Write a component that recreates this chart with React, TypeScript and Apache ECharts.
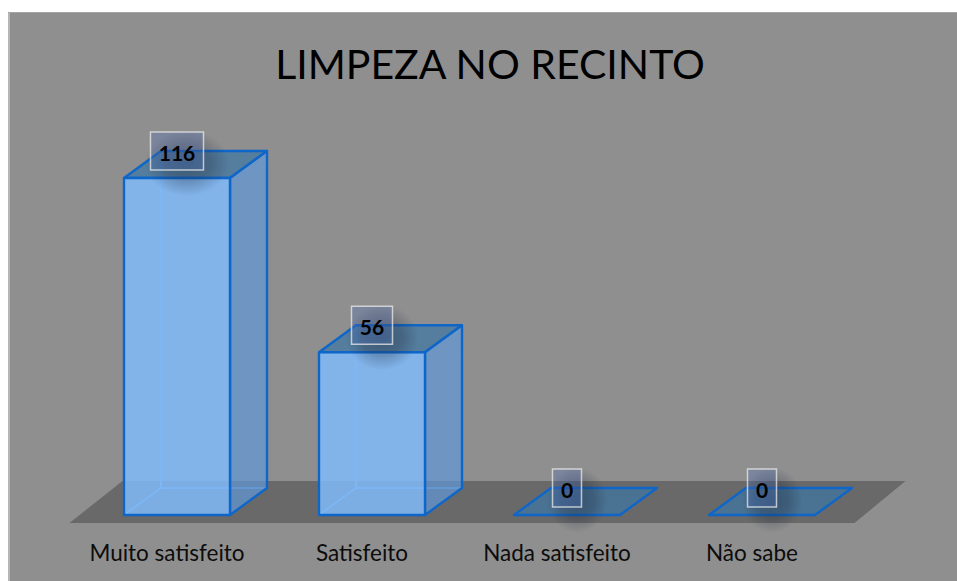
import React, { useEffect, useRef } from "react";
import * as echarts from "echarts";

const titleText = "LIMPEZA NO RECINTO";
const categories = ["Muito satisfeito", "Satisfeito", "Nada satisfeito", "Não sabe"];
const values = [116, 56, 0, 0];

const DX = 37;
const DY = -27;
const EDGE = "#0f66c9";
const GHOST = "#6aa9ee";
const FONT = "Lato, Carlito, 'Open Sans', sans-serif";

function renderFloor(_params: any, api: any) {
  const origin = api.coord([0, 0]);
  const band = api.size([1, 0])[0];
  const left = origin[0] - band / 2;
  const right = left + band * categories.length;
  const y = origin[1];
  return {
    type: "polygon",
    shape: {
      points: [
        [left - 10, y + 8],
        [right - 5, y + 8],
        [right + 46, y - 34],
        [left + 43, y - 34],
      ],
    },
    style: { fill: "#696969" },
    silent: true,
  };
}

function renderBar(_params: any, api: any) {
  const idx = api.value(0);
  const val = api.value(1);
  const base = api.coord([idx, 0]);
  const top = api.coord([idx, val]);
  const w = api.size([1, 0])[0] * 0.5436;
  const x0 = base[0] - w / 2;
  const x1 = base[0] + w / 2;
  const yb = base[1];
  const yt = top[1];
  const label = String(val);
  const boxW = 12 * label.length + 17;
  const boxH = 38;
  const boxCy = yt + DY;
  const poly = (points: number[][], fill: string, stroke = EDGE, lineWidth = 2.4) => ({
    type: "polygon",
    shape: { points },
    style: { fill, stroke, lineWidth, lineJoin: "round" },
  });
  const ghost = (x1a: number, y1a: number, x2a: number, y2a: number) => ({
    type: "line",
    shape: { x1: x1a, y1: y1a, x2: x2a, y2: y2a },
    style: { stroke: GHOST, lineWidth: 1.5 },
  });
  const children: any[] = [];
  if (val > 0) {
    children.push(ghost(x0 + DX, yb + DY, x0 + DX, yt + DY));
    children.push(ghost(x0, yb, x0 + DX, yb + DY));
    children.push(ghost(x0 + DX, yb + DY, x1 + DX, yb + DY));
  }
  children.push(
    poly([[x0, yt], [x0 + DX, yt + DY], [x1 + DX, yt + DY], [x1, yt]], "rgba(62,118,162,0.72)")
  );
  if (val > 0) {
    children.push(
      poly([[x1, yb], [x1 + DX, yb + DY], [x1 + DX, yt + DY], [x1, yt]], "rgba(97,153,217,0.7)"),
      poly([[x0, yb], [x1, yb], [x1, yt], [x0, yt]], "rgba(128,187,251,0.84)")
    );
  }
  children.push({
    type: "rect",
    shape: { x: base[0] - boxW / 2 - 6, y: boxCy - boxH / 2 - 2, width: boxW + 32, height: boxH + 28 },
    style: {
      fill: new echarts.graphic.RadialGradient(0.5, 0.5, 0.5, [
        { offset: 0, color: "rgba(25,35,55,0.38)" },
        { offset: 0.55, color: "rgba(25,35,55,0.26)" },
        { offset: 1, color: "rgba(25,35,55,0)" },
      ]),
    },
  });
  children.push({
    type: "rect",
    shape: { x: base[0] - boxW / 2, y: boxCy - boxH / 2, width: boxW, height: boxH },
    style: { fill: "rgba(80,112,185,0.3)", stroke: "rgba(235,235,235,0.75)", lineWidth: 1.5 },
  });
  children.push({
    type: "text",
    style: {
      text: label,
      x: base[0],
      y: boxCy + 1,
      align: "center",
      verticalAlign: "middle",
      fill: "#000000",
      font: `bold 21px ${FONT}`,
    },
  });
  return { type: "group", children };
}

export default function App() {
  const ref = useRef<HTMLDivElement>(null);
  useEffect(() => {
    if (!ref.current) return;
    const chart = echarts.init(ref.current, undefined, { renderer: "svg" });
    chart.setOption({
      animation: false,
      backgroundColor: "#8f8f8f",
      title: {
        text: titleText,
        left: 477,
        top: 26,
        textAlign: "center",
        textStyle: { color: "#000000", fontSize: 41, fontWeight: "normal", fontFamily: FONT },
      },
      graphic: [
        { type: "rect", shape: { x: 0, y: 0, width: 2, height: 569 }, style: { fill: "#b6b6b6" }, silent: true },
        { type: "rect", shape: { x: 0, y: 0, width: 949, height: 1 }, style: { fill: "#a4a4a4" }, silent: true },
      ],
      grid: { left: 71.5, top: 154.4, width: 780, height: 348.6 },
      xAxis: {
        type: "category",
        data: categories,
        axisLine: { show: false },
        axisTick: { show: false },
        axisLabel: {
          color: "#0c0c0c",
          fontSize: 22.5,
          fontFamily: FONT,
          margin: 26,
          interval: 0,
          padding: [0, 20, 0, 0],
        },
      },
      yAxis: { type: "value", min: 0, max: 120, show: false },
      series: [
        {
          type: "custom",
          renderItem: renderFloor,
          data: [[0, 0]],
          encode: { x: 0, y: 1 },
          silent: true,
          z: 1,
        },
        {
          type: "custom",
          renderItem: renderBar,
          data: values.map((v, i) => [i, v]),
          encode: { x: 0, y: 1 },
          z: 2,
        },
      ],
    });
    return () => chart.dispose();
  }, []);
  return (
    <div
      ref={ref}
      style={{ position: "absolute", left: 8, top: 12, width: 949, height: 569 }}
    />
  );
}
